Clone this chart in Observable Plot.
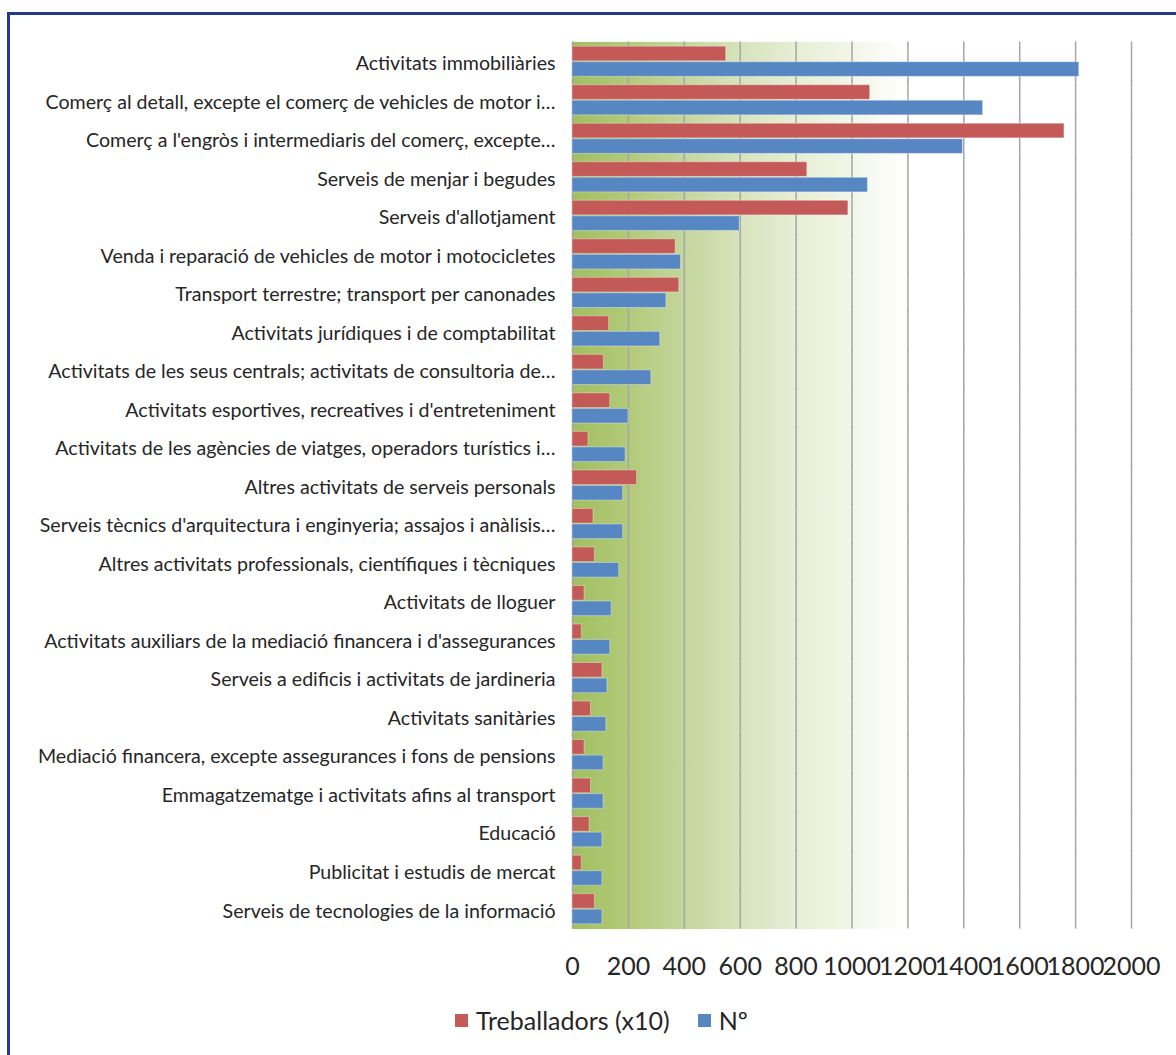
<!DOCTYPE html>
<html><head><meta charset="utf-8">
<script src="https://cdn.jsdelivr.net/npm/d3@7"></script>
<script src="https://cdn.jsdelivr.net/npm/@observablehq/plot@0.6"></script>
<style>
body{margin:0;background:#fff;width:1176px;height:1055px;overflow:hidden;position:relative;font-family:Lato,"Open Sans",sans-serif}
#frame{position:absolute;left:7px;top:12px;width:1300px;height:1200px;border:3px solid #26398c;box-sizing:border-box}
#chart{position:absolute;left:0;top:0}
#legend{position:absolute;top:1005px;left:455px;display:flex;align-items:center;font-size:25px;color:#262626;white-space:nowrap}
.sw{display:inline-block;width:13px;height:13px;margin-right:8px}
</style></head>
<body>
<div id="frame"></div>
<div id="chart"></div>
<div id="legend"></div>
<script>
const categories = [
  "Activitats immobiliàries",
  "Comerç al detall, excepte el comerç de vehicles de motor i…",
  "Comerç a l'engròs i intermediaris del comerç, excepte…",
  "Serveis de menjar i begudes",
  "Serveis d'allotjament",
  "Venda i reparació de vehicles de motor i motocicletes",
  "Transport terrestre; transport per canonades",
  "Activitats jurídiques i de comptabilitat",
  "Activitats de les seus centrals; activitats de consultoria de…",
  "Activitats esportives, recreatives i d'entreteniment",
  "Activitats de les agències de viatges, operadors turístics i…",
  "Altres activitats de serveis personals",
  "Serveis tècnics d'arquitectura i enginyeria; assajos i anàlisis…",
  "Altres activitats professionals, científiques i tècniques",
  "Activitats de lloguer",
  "Activitats auxiliars de la mediació financera i d'assegurances",
  "Serveis a edificis i activitats de jardineria",
  "Activitats sanitàries",
  "Mediació financera, excepte assegurances i fons de pensions",
  "Emmagatzematge i activitats afins al transport",
  "Educació",
  "Publicitat i estudis de mercat",
  "Serveis de tecnologies de la informació"
];
const seriesNames = ["Treballadors (x10)", "Nº"];
const treballadors = [550, 1065, 1760, 840, 987, 369, 382, 131, 112, 135, 57, 231, 75, 80, 43, 33, 107, 66, 43, 66, 61, 33, 80];
const numero = [1813, 1469, 1397, 1057, 598, 388, 336, 314, 282, 200, 190, 181, 181, 167, 140, 135, 125, 121, 111, 111, 107, 107, 107];
const xTicks = [0, 200, 400, 600, 800, 1000, 1200, 1400, 1600, 1800, 2000];
const colors = ["#c35a57", "#5687c3"];

const rows = [];
categories.forEach((c, i) => {
  rows.push({cat: c, series: seriesNames[0], value: treballadors[i]});
  rows.push({cat: c, series: seriesNames[1], value: numero[i]});
});

const chart = Plot.plot({
  width: 1176,
  height: 990,
  marginLeft: 572,
  marginRight: 45,
  marginTop: 42,
  marginBottom: 62,
  style: {fontFamily: "Lato, 'Open Sans', sans-serif", color: "#262626", background: "transparent"},
  x: {domain: [0, 2000], axis: null},
  y: {domain: seriesNames, axis: null, paddingInner: 0.06, paddingOuter: 0.27, round: false},
  fy: {domain: categories, padding: 0, axis: null, round: false},
  color: {domain: seriesNames, range: colors},
  marks: [
    Plot.frame({fill: "url(#bggrad)", stroke: "none", insetTop: -0.6, insetBottom: -0.6}),
    Plot.ruleX(xTicks, {stroke: "#a6a6a6", strokeWidth: 1.5, strokeOpacity: 1, insetTop: -0.6, insetBottom: -0.6}),
    Plot.barX(rows, {x: "value", y: "series", fy: "cat", fill: "series", stroke: "#ffffff", strokeOpacity: 0.35, strokeWidth: 1}),
    Plot.axisFy({anchor: "left", tickSize: 0, tickPadding: 17, fontSize: 19.6, label: null, fill: "#262626", dy: 2}),
    Plot.axisX({ticks: xTicks, tickSize: 0, tickPadding: 29, fontSize: 25, label: null, fill: "#262626", tickFormat: d => String(d)})
  ]
});

d3.select(chart).insert("defs", ":first-child").html(
  `<linearGradient id="bggrad" x1="0" x2="1" y1="0" y2="0">
     <stop offset="0" stop-color="#a1bf60"/>
     <stop offset="0.1" stop-color="#b2ca79"/>
     <stop offset="0.2" stop-color="#c4d69d"/>
     <stop offset="0.3" stop-color="#d7e3bd"/>
     <stop offset="0.4" stop-color="#e6eed4"/>
     <stop offset="0.5" stop-color="#f2f6e8"/>
     <stop offset="0.6" stop-color="#ffffff"/>
     <stop offset="1" stop-color="#ffffff"/>
   </linearGradient>`);

document.getElementById("chart").appendChild(chart);

const legend = d3.select("#legend");
seriesNames.forEach((s, i) => {
  const item = legend.append("span").style("display", "inline-flex").style("align-items", "center").style("margin-right", i === 0 ? "28px" : "0");
  item.append("span").attr("class", "sw").style("background", colors[i]);
  item.append("span").text(s);
});
</script>
</body></html>
